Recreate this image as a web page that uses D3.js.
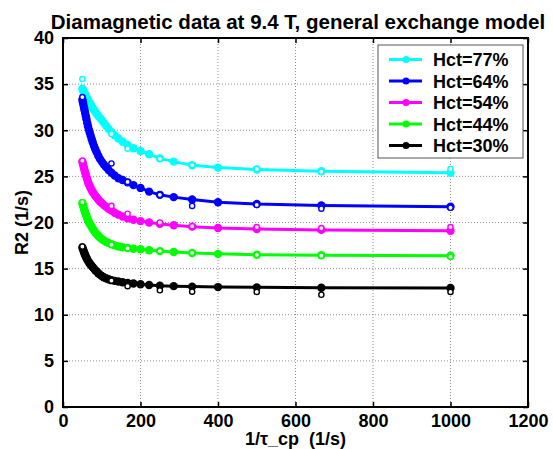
<!DOCTYPE html>
<meta charset="utf-8">
<script src="https://d3js.org/d3.v7.min.js"></script>
<style>
  body { margin: 0; background: #fff; }
  text { font-family: "Liberation Sans", Arial, sans-serif; font-weight: bold; }
</style>
<div id="my_dataviz"></div>
<script>
// 1/tau_cp values (1/s) for the fitted curve
const fitX = [50, 51.3, 52.6, 54.1, 55.6, 57.1, 58.8, 60.6, 62.5, 64.5, 66.7, 69.0, 71.4, 74.1, 76.9, 80,
  83.3, 87.0, 90.9, 95.2, 100, 105.3, 111.1, 117.6, 125, 133.3, 142.9, 153.8, 166.7, 181.8, 200, 222.2,
  250, 285.7, 333.3, 400, 500, 666.7, 1000];

const fit77 = [34.5, 34.38, 34.26, 34.13, 34.0, 33.86, 33.71, 33.55, 33.41, 33.26, 33.1, 32.92, 32.76, 32.59,
  32.4, 32.2, 32.0, 31.78, 31.55, 31.34, 31.1, 30.8, 30.5, 30.15, 29.8, 29.45, 29.1, 28.75, 28.4, 28.05,
  27.75, 27.4, 26.95, 26.6, 26.2, 25.95, 25.75, 25.55, 25.4];
const fit64 = [33.3, 33.03, 32.77, 32.47, 32.17, 31.88, 31.54, 31.2, 30.78, 30.44, 30.07, 29.74, 29.4, 29.03,
  28.68, 28.3, 27.95, 27.6, 27.23, 26.9, 26.6, 26.3, 26.0, 25.7, 25.4, 25.1, 24.8, 24.6, 24.35, 24.05,
  23.75, 23.35, 23.0, 22.75, 22.5, 22.2, 22.0, 21.85, 21.7];
const fit54 = [26.6, 26.38, 26.16, 25.9, 25.65, 25.42, 25.17, 24.92, 24.65, 24.4, 24.15, 23.92, 23.72, 23.5,
  23.3, 23.1, 22.9, 22.7, 22.5, 22.3, 22.1, 21.9, 21.7, 21.5, 21.3, 21.05, 20.85, 20.65, 20.45, 20.3,
  20.15, 20.0, 19.85, 19.7, 19.55, 19.4, 19.3, 19.2, 19.1];
const fit44 = [22.1, 21.9, 21.7, 21.48, 21.27, 21.08, 20.88, 20.68, 20.45, 20.25, 20.05, 19.85, 19.7, 19.5,
  19.3, 19.1, 18.92, 18.74, 18.56, 18.38, 18.2, 18.05, 17.9, 17.77, 17.65, 17.52, 17.4, 17.32, 17.25, 17.15,
  17.1, 17.0, 16.9, 16.8, 16.7, 16.6, 16.5, 16.45, 16.4];
const fit30 = [17.3, 17.14, 16.98, 16.8, 16.63, 16.48, 16.32, 16.16, 16.0, 15.84, 15.7, 15.55, 15.42, 15.28,
  15.14, 15.0, 14.83, 14.68, 14.5, 14.35, 14.2, 14.07, 13.95, 13.85, 13.75, 13.67, 13.6, 13.52, 13.45, 13.38,
  13.3, 13.22, 13.15, 13.1, 13.05, 13.0, 12.97, 12.93, 12.9];

// measured points (open circles)
const dataX = [50, 125, 166.7, 250, 333.3, 500, 666.7, 1000];
const data77 = [35.55, 29.6, 28.0, 26.9, 26.2, 25.8, 25.5, 25.8];
const data64 = [33.6, 26.4, 24.4, 23.0, 21.8, 21.9, 21.5, 21.6];
const data54 = [26.7, 21.8, 20.95, 20.0, 19.6, 19.5, 19.4, 19.5];
const data44 = [22.2, 17.6, 17.2, 16.9, 16.7, 16.5, 16.4, 16.3];
const data30 = [17.4, 13.7, 13.1, 12.65, 12.5, 12.47, 12.17, 12.47];

const labels = ["Hct=77%", "Hct=64%", "Hct=54%", "Hct=44%", "Hct=30%"];
const colors = ["#00ffff", "#0000ff", "#ff00ff", "#00ff00", "#000000"];
const fits = [fit77, fit64, fit54, fit44, fit30];
const measured = [data77, data64, data54, data44, data30];

const xTicks = [0, 200, 400, 600, 800, 1000, 1200];
const yTicks = [0, 5, 10, 15, 20, 25, 30, 35, 40];

const W = 553, H = 449;
const margin = {top: 38, right: 25, bottom: 42, left: 63},
    width = W - margin.left - margin.right,
    height = H - margin.top - margin.bottom;

const svg0 = d3.select("#my_dataviz").append("svg")
    .attr("width", W).attr("height", H);

svg0.append("text")
  .attr("x", 298)
  .attr("y", 29)
  .attr("text-anchor", "middle")
  .style("font-size", "20.5px")
  .text("Diamagnetic data at 9.4 T, general exchange model");

const svg = svg0.append("g")
    .attr("transform", `translate(${margin.left},${margin.top})`);

const x = d3.scaleLinear().domain([0, 1200]).range([0, width]);
const y = d3.scaleLinear().domain([0, 40]).range([height, 0]);

// dotted grid
svg.append("g").selectAll("line").data(xTicks.slice(1, -1)).join("line")
  .attr("x1", d => x(d)).attr("x2", d => x(d))
  .attr("y1", 0).attr("y2", height)
  .attr("stroke", "#8c8c8c").attr("stroke-dasharray", "1,2");
svg.append("g").selectAll("line").data(yTicks.slice(1, -1)).join("line")
  .attr("y1", d => y(d)).attr("y2", d => y(d))
  .attr("x1", 0).attr("x2", width)
  .attr("stroke", "#8c8c8c").attr("stroke-dasharray", "1,2");

// axes, ticks pointing inward on all sides
const fmt = d3.format("d");
const bottomAx = svg.append("g").attr("transform", `translate(0,${height})`)
  .call(d3.axisBottom(x).tickValues(xTicks).tickFormat(fmt).tickSizeInner(-5).tickSizeOuter(0).tickPadding(7));
const leftAx = svg.append("g")
  .call(d3.axisLeft(y).tickValues(yTicks).tickFormat(fmt).tickSizeInner(-5).tickSizeOuter(0).tickPadding(9));
svg.append("g")
  .call(d3.axisTop(x).tickValues(xTicks).tickFormat("").tickSizeInner(-5).tickSizeOuter(0));
svg.append("g").attr("transform", `translate(${width},0)`)
  .call(d3.axisRight(y).tickValues(yTicks).tickFormat("").tickSizeInner(-5).tickSizeOuter(0));
svg.selectAll(".domain").remove();
svg.selectAll(".tick line").attr("stroke", "#000").attr("stroke-width", 1.5);
svg.selectAll(".tick text").style("font-size", "18px").attr("fill", "#000")
  .style("font-family", '"Liberation Sans", Arial, sans-serif').style("font-weight", "bold");

svg.append("rect")
  .attr("x", 0).attr("y", 0).attr("width", width).attr("height", height)
  .attr("fill", "none").attr("stroke", "#000").attr("stroke-width", 2);

// series
const line = d3.line().x(d => x(d[0])).y(d => y(d[1]));
fits.forEach((vals, i) => {
  const pts = fitX.map((d, j) => [d, vals[j]]);
  const g = svg.append("g");
  g.append("path").datum(pts).attr("d", line)
    .attr("fill", "none").attr("stroke", colors[i]).attr("stroke-width", 3);
  g.selectAll("circle").data(pts).join("circle")
    .attr("cx", d => x(d[0])).attr("cy", d => y(d[1])).attr("r", 4.2)
    .attr("fill", colors[i]);
});
measured.forEach((vals, i) => {
  svg.append("g").selectAll("circle").data(dataX.map((d, j) => [d, vals[j]])).join("circle")
    .attr("cx", d => x(d[0])).attr("cy", d => y(d[1])).attr("r", 2.6)
    .attr("fill", "#fff").attr("stroke", colors[i]).attr("stroke-width", 1.4);
});

// axis labels
svg0.append("text")
  .attr("x", margin.left + width / 2).attr("y", 445)
  .attr("text-anchor", "middle").style("font-size", "18px")
  .style("white-space", "pre")
  .text("1/τ_cp  (1/s)");
svg0.append("text")
  .attr("transform", `translate(28,${margin.top + height / 2}) rotate(-90)`)
  .attr("text-anchor", "middle").style("font-size", "18px")
  .text("R2 (1/s)");

// legend
const lg = svg0.append("g").attr("transform", "translate(378,45)");
lg.append("rect").attr("width", 145).attr("height", 113)
  .attr("fill", "#fff").attr("stroke", "#555").attr("stroke-width", 1);
labels.forEach((lab, i) => {
  const cy = 14.5 + i * 21.5;
  lg.append("line").attr("x1", 11).attr("x2", 44).attr("y1", cy).attr("y2", cy)
    .attr("stroke", colors[i]).attr("stroke-width", 3);
  lg.append("circle").attr("cx", 28).attr("cy", cy).attr("r", 3.5).attr("fill", colors[i]);
  lg.append("text").attr("x", 55).attr("y", cy + 6.5).style("font-size", "18px").text(lab);
});
</script>
